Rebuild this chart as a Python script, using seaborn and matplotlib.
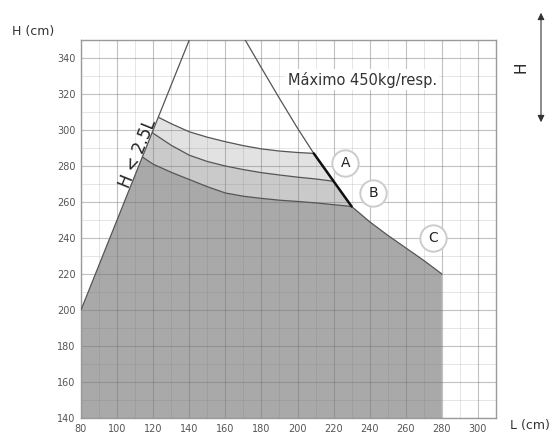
import numpy as np
import pandas as pd
import matplotlib
matplotlib.use("Agg")
import matplotlib.pyplot as plt
import seaborn as sns

# limite H < 2.5L
lim_L = [80, 140]
lim_H = [200, 350]

# curva derecha (maximo 450 kg / resp.)
right_L = [171, 180, 190, 200, 209, 220, 230, 240, 250, 260, 270, 280]
right_H = [350, 334.5, 317.5, 301, 287, 271.5, 257.5, 249, 241.5, 234.5, 227.5, 220]

# curvas A, B, C
top_L = [123, 130, 140, 150, 160, 170, 180, 190, 200, 209]
top_H = [307, 303.5, 299, 296, 293.5, 291.3, 289.5, 288.3, 287.5, 287]
mid_L = [119.5, 130, 140, 150, 160, 170, 180, 190, 200, 210, 220]
mid_H = [298.5, 291.5, 286, 282.5, 280, 278, 276.3, 275, 273.8, 272.8, 271.5]
bot_L = [114, 120, 130, 140, 150, 160, 170, 180, 190, 200, 210, 220, 230]
bot_H = [285, 281, 276.5, 272.5, 268.5, 265, 263.2, 262, 261, 260.3, 259.5, 258.5, 257.5]

labels = ["A", "B", "C"]
lab_L = [226.5, 242, 275]
lab_H = [281.5, 265, 240]

x_ticks = list(range(80, 301, 20))
y_ticks = list(range(140, 341, 20))


def seg(xs, ys, lo, hi):
    xs = np.asarray(xs, float)
    ys = np.asarray(ys, float)
    m = (xs >= lo) & (xs <= hi)
    return xs[m], ys[m]


def main():
    sns.set_theme(style="white")
    plt.rcParams['font.family'] = ['DejaVu Sans']

    fig = plt.figure(figsize=(5.57, 4.37), dpi=100)
    ax = fig.add_axes([0.1454, 0.0435, 0.8905 - 0.1454, 0.9085 - 0.0435])

    # poligonos de relleno
    rL, rH = seg(right_L, right_H, 230, 280)
    dark_x = np.concatenate([[80, 80], bot_L, rL[1:], [280]])
    dark_y = np.concatenate([[140, 200], bot_H, rH[1:], [140]])
    ax.fill(dark_x, dark_y, color="#a9a9a9", lw=0, zorder=1)

    rL2, rH2 = seg(right_L, right_H, 220, 230)
    mid_x = np.concatenate([mid_L, rL2[1:], bot_L[::-1]])
    mid_y = np.concatenate([mid_H, rH2[1:], bot_H[::-1]])
    ax.fill(mid_x, mid_y, color="#cacaca", lw=0, zorder=1)

    rL3, rH3 = seg(right_L, right_H, 209, 220)
    top_x = np.concatenate([top_L, rL3[1:], mid_L[::-1]])
    top_y = np.concatenate([top_H, rH3[1:], mid_H[::-1]])
    ax.fill(top_x, top_y, color="#e2e2e2", lw=0, zorder=1)

    # lineas
    lc = "#555555"
    sns.lineplot(x=lim_L, y=lim_H, sort=False, color=lc, lw=0.9, ax=ax, zorder=3)
    sns.lineplot(x=right_L, y=right_H, sort=False, color=lc, lw=0.9, ax=ax, zorder=3)
    for xs, ys in [(top_L, top_H), (mid_L, mid_H), (bot_L, bot_H)]:
        sns.lineplot(x=xs, y=ys, sort=False, color=lc, lw=0.9, ax=ax, zorder=3)
    aL, aH = seg(right_L, right_H, 209, 230)
    sns.lineplot(x=aL, y=aH, sort=False, color="#111111", lw=1.8, ax=ax, zorder=4)

    # etiquetas circulares
    ax.scatter(lab_L, lab_H, s=360, facecolor="white", edgecolor="#cccccc",
               linewidth=1.4, zorder=5)
    for t, x, y in zip(labels, lab_L, lab_H):
        ax.text(x, y, t, ha="center", va="center", fontsize=10,
                color="#222222", zorder=6)

    ax.text(194.5, 328, "Máximo 450kg/resp.", fontsize=10.5, color="#333333",
            ha="left", va="center", zorder=6,
            bbox=dict(facecolor="white", edgecolor="none", pad=2))
    ax.text(114, 286, "H < 2.5L", rotation=68, rotation_mode="anchor",
            ha="center", va="baseline", fontsize=12, color="#222222", zorder=6)

    # ejes y grilla
    ax.set_xlim(80, 310)
    ax.set_ylim(140, 350)
    ax.set_xticks(x_ticks)
    ax.set_yticks(y_ticks)
    ax.set_xticks(range(90, 310, 20), minor=True)
    ax.set_yticks(range(150, 350, 20), minor=True)
    ax.set_axisbelow("line")
    ax.grid(which="major", color="#777777", alpha=0.45, lw=0.8)
    ax.grid(which="minor", color="#777777", alpha=0.22, lw=0.6)
    ax.tick_params(which="both", length=0, labelsize=7, colors="#555555", pad=4)
    for s in ax.spines.values():
        s.set_color("#9a9a9a")
        s.set_linewidth(1.0)
    ax.set_xlabel("")
    ax.set_ylabel("")

    fig.text(12 / 557, 1 - 32 / 437, "H (cm)", fontsize=9, color="#333333",
             ha="left", va="center")
    fig.text(510 / 557, 1 - 425 / 437, "L (cm)", fontsize=9, color="#333333",
             ha="left", va="center")

    # cota H a la derecha
    fig.add_artist(matplotlib.patches.FancyArrowPatch(
        (541 / 557, 1 - 10 / 437), (541 / 557, 1 - 125 / 437),
        transform=fig.transFigure, arrowstyle="<|-|>", mutation_scale=10,
        color="#333333", lw=0.8))
    fig.text(521 / 557, 1 - 67 / 437, "H", rotation=90, fontsize=11,
             color="#222222", ha="center", va="center")

    fig.savefig("out.png", dpi=100)
    plt.close(fig)


if __name__ == "__main__":
    main()
